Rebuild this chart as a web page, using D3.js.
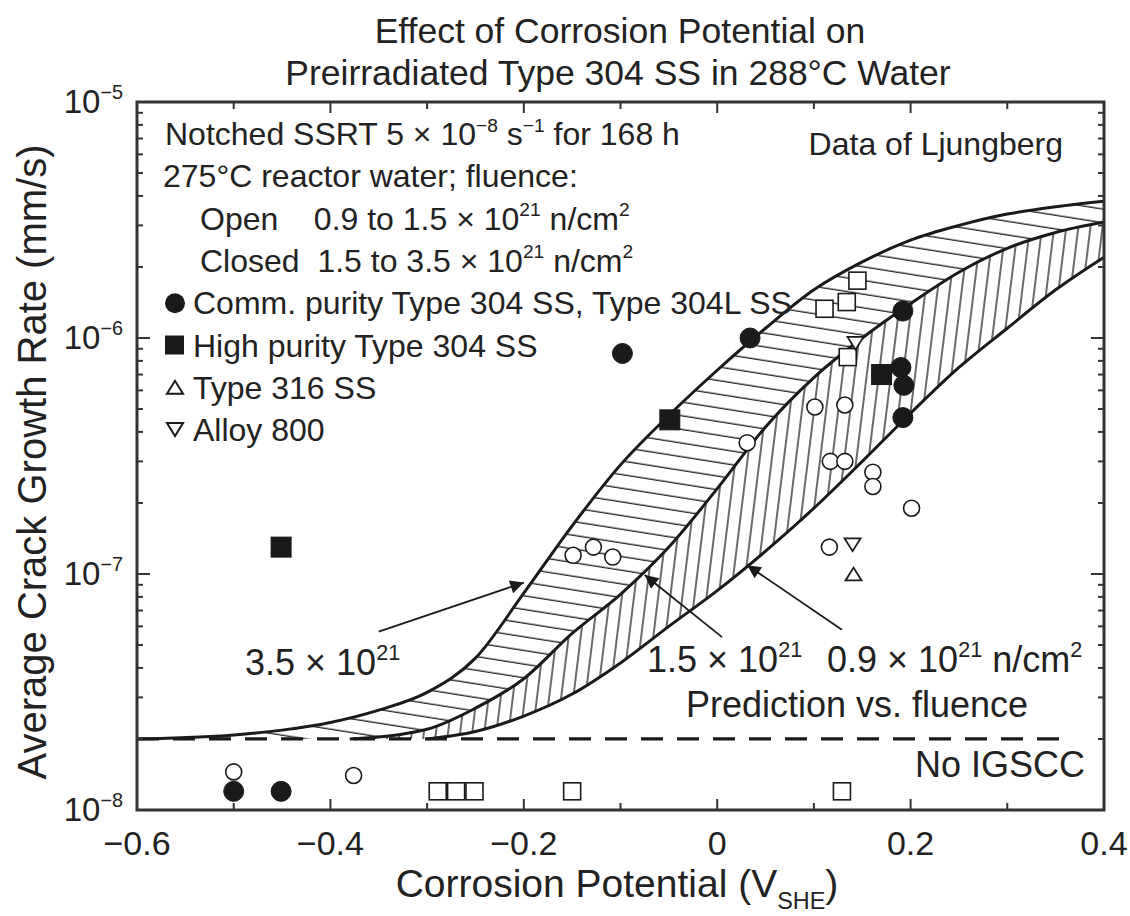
<!DOCTYPE html>
<html>
<head>
<meta charset="utf-8">
<script src="https://cdn.jsdelivr.net/npm/d3@7"></script>
<style>
  body { margin: 0; background: #fff; }
  svg { display: block; }
  text { font-family: "Liberation Sans", Arial, Helvetica, sans-serif; fill: #222; }
</style>
</head>
<body>
<svg id="chart" width="1130" height="916"></svg>
<script>
// prediction curves, [potential V_SHE, crack growth rate mm/s]
const curve35 = [[-0.6, 2.0e-8], [-0.5, 2.08e-8], [-0.45, 2.18e-8], [-0.4, 2.35e-8], [-0.35, 2.65e-8],
  [-0.3, 3.15e-8], [-0.25, 4.4e-8], [-0.2, 8.3e-8], [-0.15, 1.6e-7], [-0.1, 2.9e-7], [-0.05, 4.7e-7],
  [0.0, 7.3e-7], [0.05, 1.1e-6], [0.1, 1.6e-6], [0.15, 2.1e-6], [0.2, 2.6e-6], [0.25, 3.0e-6],
  [0.3, 3.35e-6], [0.35, 3.6e-6], [0.4, 3.8e-6]];
const curve15 = [[-0.38, 2.0e-8], [-0.3, 2.2e-8], [-0.25, 2.7e-8], [-0.2, 3.6e-8], [-0.15, 5.6e-8],
  [-0.1, 8.2e-8], [-0.05, 1.3e-7], [0.0, 2.3e-7], [0.05, 4.2e-7], [0.1, 6.8e-7], [0.15, 1.0e-6],
  [0.2, 1.4e-6], [0.25, 1.9e-6], [0.3, 2.4e-6], [0.35, 2.8e-6], [0.4, 3.1e-6]];
const curve09 = [[-0.3, 2.0e-8], [-0.25, 2.15e-8], [-0.2, 2.5e-8], [-0.15, 3.1e-8], [-0.1, 4.2e-8],
  [-0.05, 6.0e-8], [0.0, 8.5e-8], [0.05, 1.25e-7], [0.1, 1.9e-7], [0.15, 3.0e-7], [0.2, 4.8e-7],
  [0.25, 7.5e-7], [0.3, 1.1e-6], [0.35, 1.6e-6], [0.4, 2.2e-6]];

const noIgscc = [[-0.6, 2e-8], [0.36, 2e-8]];

// measured points
const commClosed = [[-0.5, 1.2e-8], [-0.451, 1.2e-8], [-0.098, 8.6e-7], [0.034, 1.0e-6],
  [0.192, 1.3e-6], [0.19, 7.5e-7], [0.193, 6.3e-7], [0.192, 4.6e-7]];
const commOpen = [[-0.5, 1.45e-8], [-0.376, 1.4e-8], [-0.149, 1.2e-7], [-0.128, 1.3e-7],
  [-0.108, 1.18e-7], [0.031, 3.6e-7], [0.101, 5.1e-7], [0.132, 5.2e-7], [0.117, 3.0e-7],
  [0.132, 3.0e-7], [0.161, 2.7e-7], [0.161, 2.35e-7], [0.201, 1.9e-7], [0.116, 1.3e-7]];
const highClosed = [[-0.451, 1.3e-7], [-0.049, 4.5e-7], [0.17, 7.0e-7]];
const highOpen = [[-0.289, 1.2e-8], [-0.27, 1.2e-8], [-0.251, 1.2e-8], [-0.15, 1.2e-8],
  [0.129, 1.2e-8], [0.111, 1.33e-6], [0.134, 1.42e-6], [0.145, 1.75e-6], [0.135, 8.3e-7]];
const type316 = [[0.141, 1.0e-7]];
const alloy800 = [[0.14, 1.33e-7], [0.143, 9.5e-7]];

// arrows from label to curve
const arrows = [
  [[-0.35, 5.7e-8], [-0.2, 9.2e-8]],
  [[0.005, 5.4e-8], [-0.075, 9.9e-8]],
  [[0.129, 5.8e-8], [0.031, 1.09e-7]]
];

const xDomain = [-0.6, 0.4];
const yDomain = [1e-8, 1e-5];

const svg = d3.select("#chart");
const L = 137, R = 1104, T = 102, B = 810;
const x = d3.scaleLinear().domain(xDomain).range([L, R]);
const y = d3.scaleLog().domain(yDomain).range([B, T]);
const ink = "#1a1a1a";

// rich text helper: parts = [[text, "sup"|"sub"|""], ...]
function rich(g, px, py, fs, parts, anchor) {
  const t = g.append("text").attr("x", px).attr("y", py)
    .attr("font-size", fs).attr("text-anchor", anchor || "start");
  let shift = 0;
  parts.forEach(([s, mode]) => {
    const sp = t.append("tspan").text(s);
    let target = mode === "sup" ? -0.42 * fs : mode === "sub" ? 0.3 * fs : 0;
    if (target !== shift) sp.attr("dy", target - shift);
    if (mode) sp.attr("font-size", fs * 0.6);
    shift = target;
  });
  return t;
}

const defs = svg.append("defs");
defs.append("clipPath").attr("id", "plot").append("rect")
  .attr("x", L).attr("y", T).attr("width", R - L).attr("height", B - T);
const ph = defs.append("pattern").attr("id", "hatchH").attr("patternUnits", "userSpaceOnUse")
  .attr("width", 30).attr("height", 13.5).attr("patternTransform", "rotate(9)");
ph.append("line").attr("x1", 0).attr("x2", 30).attr("y1", 7).attr("y2", 7)
  .attr("stroke", ink).attr("stroke-width", 1.3);
const pv = defs.append("pattern").attr("id", "hatchV").attr("patternUnits", "userSpaceOnUse")
  .attr("width", 12).attr("height", 30).attr("patternTransform", "rotate(7)");
pv.append("line").attr("x1", 6).attr("x2", 6).attr("y1", 0).attr("y2", 30)
  .attr("stroke", ink).attr("stroke-width", 1.3);
defs.append("marker").attr("id", "arr").attr("viewBox", "0 0 10 10")
  .attr("refX", 10).attr("refY", 5).attr("markerWidth", 11).attr("markerHeight", 7.5)
  .attr("markerUnits", "strokeWidth").attr("orient", "auto")
  .append("path").attr("d", "M0,0L10,5L0,10z").attr("fill", ink);

const plot = svg.append("g").attr("clip-path", "url(#plot)");
const line = d3.line().x(d => x(d[0])).y(d => y(d[1])).curve(d3.curveMonotoneX);

// hatched bands between neighbouring curves
plot.append("path").attr("d", line(curve35) + "L" + line(curve15.slice().reverse()).slice(1) + "Z")
  .attr("fill", "url(#hatchH)");
plot.append("path").attr("d", line(curve15) + "L" + line(curve09.slice().reverse()).slice(1) + "Z")
  .attr("fill", "url(#hatchV)");

// no IGSCC threshold
plot.append("path").attr("d", d3.line().x(d => x(d[0])).y(d => y(d[1]))(noIgscc))
  .attr("stroke", ink).attr("stroke-width", 3.2).attr("stroke-dasharray", "22,14").attr("fill", "none");

[curve35, curve15, curve09].forEach(c => {
  plot.append("path").attr("d", line(c)).attr("fill", "none")
    .attr("stroke", ink).attr("stroke-width", 3);
});

// axes frame and ticks
const axes = svg.append("g");
axes.append("rect").attr("x", L).attr("y", T).attr("width", R - L).attr("height", B - T)
  .attr("fill", "none").attr("stroke", "#333").attr("stroke-width", 3);

const xt = x.ticks(10);
xt.forEach(v => {
  const big = Math.round(v * 10) % 2 === 0;
  const len = big ? 11 : 7;
  axes.append("line").attr("x1", x(v)).attr("x2", x(v)).attr("y1", B).attr("y2", B - len)
    .attr("stroke", "#333").attr("stroke-width", 2);
  axes.append("line").attr("x1", x(v)).attr("x2", x(v)).attr("y1", T).attr("y2", T + len)
    .attr("stroke", "#333").attr("stroke-width", 2);
  if (big) {
    axes.append("text").attr("x", x(v)).attr("y", B + 45).attr("font-size", 34)
      .attr("text-anchor", "middle").text(Math.abs(v) < 1e-9 ? "0" : d3.format(".1f")(v));
  }
});

const yt = y.ticks();
yt.forEach(v => {
  const e = Math.log10(v);
  const major = Math.abs(e - Math.round(e)) < 1e-6;
  const len = major ? 13 : 6;
  axes.append("line").attr("x1", L).attr("x2", L + len).attr("y1", y(v)).attr("y2", y(v))
    .attr("stroke", "#333").attr("stroke-width", 2);
  axes.append("line").attr("x1", R).attr("x2", R - len).attr("y1", y(v)).attr("y2", y(v))
    .attr("stroke", "#333").attr("stroke-width", 2);
  if (major) {
    rich(axes, L - 14, y(v) + 11, 33, [["10", ""], ["\u2212" + Math.abs(Math.round(e)), "sup"]], "end");
  }
});

// axis titles and chart title
rich(svg, 617, 897, 39, [["Corrosion Potential (V", ""], ["SHE", "sub"], [")", ""]], "middle");
svg.append("text").attr("transform", "translate(46,462) rotate(-90)")
  .attr("font-size", 40).attr("text-anchor", "middle").text("Average Crack Growth Rate (mm/s)");
svg.append("text").attr("x", 620).attr("y", 43).attr("font-size", 35.5).attr("text-anchor", "middle")
  .text("Effect of Corrosion Potential on");
svg.append("text").attr("x", 618).attr("y", 85).attr("font-size", 35.5).attr("text-anchor", "middle")
  .text("Preirradiated Type 304 SS in 288\u00B0C Water");

// markers
const pts = svg.append("g");
function circles(data, r, filled) {
  pts.selectAll(null).data(data).join("circle")
    .attr("cx", d => x(d[0])).attr("cy", d => y(d[1])).attr("r", r)
    .attr("fill", filled ? ink : "#fff").attr("stroke", ink).attr("stroke-width", filled ? 1 : 1.6);
}
function squares(data, s, filled) {
  pts.selectAll(null).data(data).join("rect")
    .attr("x", d => x(d[0]) - s / 2).attr("y", d => y(d[1]) - s / 2).attr("width", s).attr("height", s)
    .attr("fill", filled ? ink : "#fff").attr("stroke", ink).attr("stroke-width", filled ? 1 : 1.6);
}
function tris(data, s, down) {
  const h = s * 0.8;
  pts.selectAll(null).data(data).join("path")
    .attr("d", d => {
      const cx = x(d[0]), cy = y(d[1]);
      return down
        ? `M${cx - s / 2},${cy - h / 2}L${cx + s / 2},${cy - h / 2}L${cx},${cy + h / 2}Z`
        : `M${cx - s / 2},${cy + h / 2}L${cx + s / 2},${cy + h / 2}L${cx},${cy - h / 2}Z`;
    })
    .attr("fill", "#fff").attr("stroke", ink).attr("stroke-width", 1.8);
}
circles(commOpen, 8, false);
squares(highOpen, 17, false);
tris(type316, 16, false);
tris(alloy800, 16, true);
circles(commClosed, 10, true);
squares(highClosed, 20, true);

// arrows
arrows.forEach(([a, b]) => {
  svg.append("line").attr("x1", x(a[0])).attr("y1", y(a[1])).attr("x2", x(b[0])).attr("y2", y(b[1]))
    .attr("stroke", ink).attr("stroke-width", 1.8).attr("marker-end", "url(#arr)");
});

// annotations
const ann = svg.append("g");
const af = 36;
rich(ann, 245, 675, af, [["3.5 \u00D7 10", ""], ["21", "sup"]]);
rich(ann, 647, 672, af, [["1.5 \u00D7 10", ""], ["21", "sup"]]);
rich(ann, 827, 672, af, [["0.9 \u00D7 10", ""], ["21", "sup"], [" n/cm", ""], ["2", "sup"]]);
ann.append("text").attr("x", 857).attr("y", 717).attr("font-size", af).attr("text-anchor", "middle")
  .text("Prediction vs. fluence");
ann.append("text").attr("x", 1085).attr("y", 777).attr("font-size", af).attr("text-anchor", "end")
  .text("No IGSCC");
ann.append("text").attr("x", 1063).attr("y", 155).attr("font-size", 32).attr("text-anchor", "end")
  .text("Data of Ljungberg");

// legend block
const lg = svg.append("g");
const lx = 165, ly0 = 145, dy = 42.3, fs = 32;
rich(lg, lx, ly0, fs, [["Notched SSRT 5 \u00D7 10", ""], ["\u22128", "sup"], [" s", ""], ["\u22121", "sup"], [" for 168 h", ""]]);
rich(lg, lx - 2, ly0 + dy, fs, [["275\u00B0C reactor water; fluence:", ""]]);
rich(lg, 200, ly0 + 2 * dy, fs, [["Open    0.9 to 1.5 \u00D7 10", ""], ["21", "sup"], [" n/cm", ""], ["2", "sup"]])
  .style("white-space", "pre");
rich(lg, 200, ly0 + 3 * dy, fs, [["Closed  1.5 to 3.5 \u00D7 10", ""], ["21", "sup"], [" n/cm", ""], ["2", "sup"]])
  .style("white-space", "pre");
const legItems = ["Comm. purity Type 304 SS, Type 304L SS", "High purity Type 304 SS", "Type 316 SS", "Alloy 800"];
legItems.forEach((s, i) => {
  const by = ly0 + (4 + i) * dy;
  lg.append("text").attr("x", 193).attr("y", by).attr("font-size", fs).text(s);
  const cy = by - 11, cx = 175;
  if (i === 0) lg.append("circle").attr("cx", cx).attr("cy", cy).attr("r", 10).attr("fill", ink);
  if (i === 1) lg.append("rect").attr("x", cx - 10).attr("y", cy - 10).attr("width", 19).attr("height", 19).attr("fill", ink);
  if (i === 2) lg.append("path").attr("d", `M${cx - 8},${cy + 6}L${cx + 8},${cy + 6}L${cx},${cy - 7}Z`)
    .attr("fill", "#fff").attr("stroke", ink).attr("stroke-width", 2);
  if (i === 3) lg.append("path").attr("d", `M${cx - 8},${cy - 7}L${cx + 8},${cy - 7}L${cx},${cy + 6}Z`)
    .attr("fill", "#fff").attr("stroke", ink).attr("stroke-width", 2);
});
</script>
</body>
</html>
